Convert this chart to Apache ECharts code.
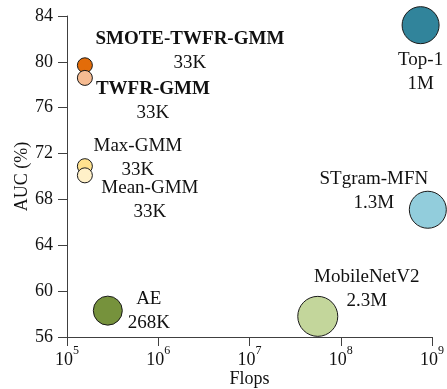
<!DOCTYPE html>
<html>
<head>
<meta charset="utf-8">
<script src="https://cdn.jsdelivr.net/npm/echarts@6/dist/echarts.min.js"></script>
<style>html,body{margin:0;padding:0;background:#fff}#c{width:447px;height:389px}</style>
</head>
<body>
<div id="c"></div>
<script>
// Data
var names = ['SMOTE-TWFR-GMM', 'TWFR-GMM', 'Max-GMM', 'Mean-GMM', 'AE', 'MobileNetV2', 'STgram-MFN', 'Top-1'];
var params = ['33K', '33K', '33K', '33K', '268K', '2.3M', '1.3M', '1M'];
var flops = [1.57e5, 1.57e5, 1.57e5, 1.57e5, 2.8e5, 5.6e7, 9.0e8, 7.5e8];
var auc = [79.7, 78.6, 70.9, 70.1, 58.3, 57.8, 67.1, 83.2];
var yTicks = [56, 60, 64, 68, 72, 76, 80, 84];
var xTickExponents = [5, 6, 7, 8, 9];

// Styles (not data)
var colors = ['#E36C09', '#F6BB91', '#FFE28F', '#FFF0C8', '#76923C', '#C3D69B', '#92CDDC', '#31849B'];
var sizes = [15, 15, 15, 15, 29, 40, 37, 37];
var bold = [true, true, false, false, false, false, false, false];
var labelOffsets = [[105, -14], [68, 23.5], [53, -8], [65, 24.5], [41, 0], [49, -27], [-54, -19], [0, 47]];

var FONT = '"Liberation Serif", "Times New Roman", serif';
var data = names.map(function (n, i) {
  return {
    name: n,
    value: [flops[i], auc[i]],
    symbolSize: sizes[i],
    itemStyle: { color: colors[i], borderColor: '#1a1a1a', borderWidth: 1, opacity: 1 },
    label: {
      show: true,
      position: 'inside',
      offset: labelOffsets[i],
      align: 'center',
      verticalAlign: 'middle',
      formatter: (bold[i] ? '{n|' : '{r|') + n + '}\n{r|' + params[i] + '}',
      rich: {
        n: { fontFamily: FONT, fontSize: 19, fontWeight: 'bold', color: '#111', lineHeight: 24 },
        r: { fontFamily: FONT, fontSize: 19, color: '#111', lineHeight: 24 }
      }
    }
  };
});

var chart = echarts.init(document.getElementById('c'), null, { renderer: 'canvas' });
chart.setOption({
  animation: false,
  backgroundColor: '#fff',
  grid: { left: 67, right: 15, top: 16, bottom: 52, containLabel: false, outerBoundsMode: 'none' },
  xAxis: {
    type: 'log',
    logBase: 10,
    min: Math.pow(10, xTickExponents[0]),
    max: Math.pow(10, xTickExponents[xTickExponents.length - 1]),
    name: 'Flops',
    nameLocation: 'middle',
    nameGap: 33,
    nameMoveOverlap: false,
    nameTextStyle: { fontFamily: FONT, fontSize: 18, color: '#111' },
    axisLine: { show: true, lineStyle: { color: '#404040', width: 1 } },
    axisTick: { show: true, length: 9, lineStyle: { color: '#404040' } },
    splitLine: { show: false },
    axisLabel: {
      margin: 8,
      formatter: function (v) {
        var e = Math.round(Math.log10(v));
        return '{b|10}{s|' + e + '}';
      },
      rich: {
        b: { fontFamily: FONT, fontSize: 18, color: '#111', lineHeight: 24, verticalAlign: 'bottom' },
        s: { fontFamily: FONT, fontSize: 12, color: '#111', lineHeight: 12, verticalAlign: 'top' }
      }
    }
  },
  yAxis: {
    type: 'value',
    min: yTicks[0],
    max: yTicks[yTicks.length - 1],
    interval: yTicks[1] - yTicks[0],
    name: 'AUC (%)',
    nameLocation: 'middle',
    nameGap: 36,
    nameMoveOverlap: false,
    nameTextStyle: { fontFamily: FONT, fontSize: 18, color: '#111' },
    axisLine: { show: true, lineStyle: { color: '#404040', width: 1 } },
    axisTick: { show: true, length: 9, lineStyle: { color: '#404040' } },
    splitLine: { show: false },
    axisLabel: { margin: 14, fontFamily: FONT, fontSize: 18, color: '#111' }
  },
  series: [{
    type: 'scatter',
    data: data,
    z: 3
  }]
});
</script>
</body>
</html>
